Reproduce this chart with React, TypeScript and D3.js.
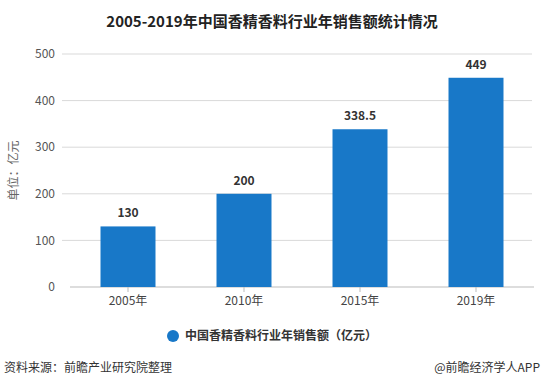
import React from 'react';
import * as d3 from 'd3';

const years = ['2005年', '2010年', '2015年', '2019年'];
const sales = [130, 200, 338.5, 449];
const yTicks = [0, 100, 200, 300, 400, 500];

const W = 544;
const H = 387;
const FONT = '"Noto Sans CJK SC", "Noto Sans", sans-serif';

export default function App() {
  const x = d3.scaleBand<string>().domain(years).range([70, 534]).paddingInner(0.526).paddingOuter(0.263);
  const y = d3.scaleLinear().domain([0, 500]).range([287, 54]);

  return (
    <svg width={W} height={H} style={{ position: 'absolute', left: 0, top: 0, background: '#fff' }} fontFamily={FONT}>
      <text x={W / 2} y={27} textAnchor="middle" fontSize={15} fontWeight="bold" fill="#222">
        2005-2019年中国香精香料行业年销售额统计情况
      </text>

      {yTicks.map(t => (
        <g key={t}>
          {t > 0 && <line x1={62} x2={532} y1={y(t)} y2={y(t)} stroke="#d9d9d9" />}
          <text x={55} y={y(t)} dy="0.35em" textAnchor="end" fontSize={12} fill="#555">{t}</text>
        </g>
      ))}
      <line x1={70} x2={534} y1={y(0)} y2={y(0)} stroke="#bbb" />

      <text transform={`translate(18,${y(250)}) rotate(-90)`} textAnchor="middle" fontSize={12} fill="#666">
        单位：亿元
      </text>

      {years.map((yr, i) => (
        <g key={yr}>
          <rect x={x(yr)} y={y(sales[i])} width={x.bandwidth()} height={y(0) - y(sales[i])} fill="#1878c8" />
          <text x={(x(yr) ?? 0) + x.bandwidth() / 2} y={y(sales[i]) - 9} textAnchor="middle" fontSize={12} fontWeight="bold" fill="#333">
            {sales[i]}
          </text>
          <line x1={(x(yr) ?? 0) + x.bandwidth() / 2} x2={(x(yr) ?? 0) + x.bandwidth() / 2} y1={y(0)} y2={y(0) + 5} stroke="#bbb" />
          <text x={(x(yr) ?? 0) + x.bandwidth() / 2} y={y(0) + 18} textAnchor="middle" fontSize={12} fill="#444">{yr}</text>
        </g>
      ))}

      <circle cx={173} cy={336} r={6} fill="#1878c8" />
      <text x={185} y={336} dy="0.35em" fontSize={12} fontWeight="bold" fill="#333">中国香精香料行业年销售额（亿元）</text>

      <text x={4} y={368} dy="0.35em" fontSize={12} fill="#333">资料来源：前瞻产业研究院整理</text>
      <text x={540} y={368} dy="0.35em" textAnchor="end" fontSize={12} fill="#333">@前瞻经济学人APP</text>
    </svg>
  );
}
